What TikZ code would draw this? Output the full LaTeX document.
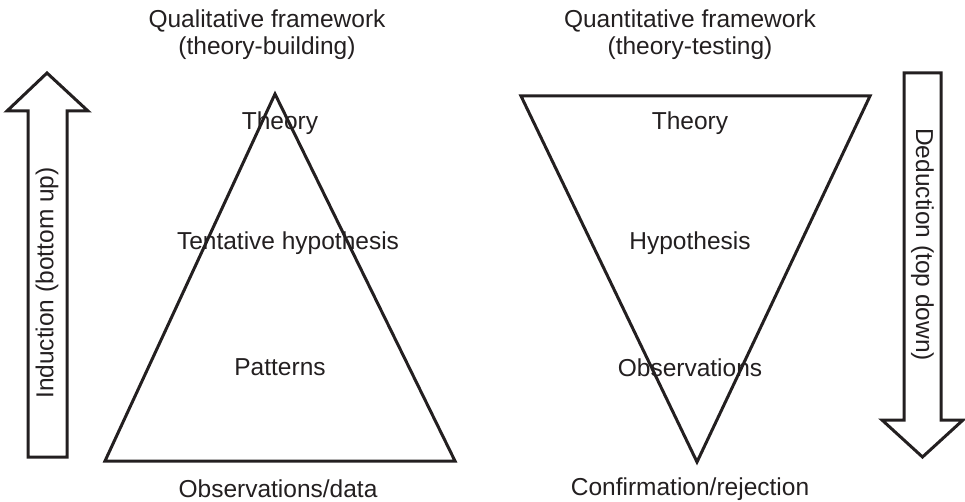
\documentclass[tikz,border=0pt]{standalone}
\usepackage{fontspec}
\setmainfont{Liberation Sans}
\definecolor{ink}{HTML}{231F20}
\begin{document}
\begin{tikzpicture}[x=1pt,y=-1pt,
  shape line/.style={draw=ink,line width=3pt,line join=miter},
  lbl/.style={text=ink,font=\fontsize{24.5}{29}\selectfont,inner sep=0pt,align=center}]
\useasboundingbox (0,0) rectangle (965,502);
% left triangle
\coordinate (LA) at (275,94);
\coordinate (LB) at (105,461);
\coordinate (LC) at (455,461);
\draw[shape line] (LA) -- (LB) -- (LC) -- cycle;
% right triangle
\coordinate (RA) at (521,96);
\coordinate (RB) at (870,96);
\coordinate (RC) at (697,462);
\draw[shape line] (RA) -- (RB) -- (RC) -- cycle;
% induction arrow
\draw[shape line] (47,73) -- (7,111) -- (28,111) -- (28,457) -- (67,457) -- (67,111) -- (88,111) -- cycle;
% deduction arrow
\draw[shape line] (904,73) -- (941,73) -- (941,420) -- (963,420) -- (922.5,457) -- (882,420) -- (904,420) -- cycle;
% titles
\node[lbl] (qualt) at (267,21) {Qualitative framework};
\node[lbl] (qualb) at (267,48) {(theory-building)};
\node[lbl] (quant) at (690,21) {Quantitative framework};
\node[lbl] (quanb) at (690,48) {(theory-testing)};
% left labels
\node[lbl] (lt) at (280,123) {Theory};
\node[lbl] (lh) at (288,243) {Tentative hypothesis};
\node[lbl] (lp) at (280,367) {Patterns};
\node[lbl] (lo) at (278,489) {Observations/data};
% right labels
\node[lbl] (rt) at (690,123) {Theory};
\node[lbl] (rh) at (690,243) {Hypothesis};
\node[lbl] (ro) at (690,368) {Observations};
\node[lbl] (rc) at (690,489) {Confirmation/rejection};
% arrow labels
\node[lbl,rotate=90,anchor=west] (ind) at (47,399) {Induction (bottom up)};
\node[lbl,rotate=-90,anchor=west] (ded) at (922.5,128) {Deduction (top down)};
\end{tikzpicture}
\end{document}
